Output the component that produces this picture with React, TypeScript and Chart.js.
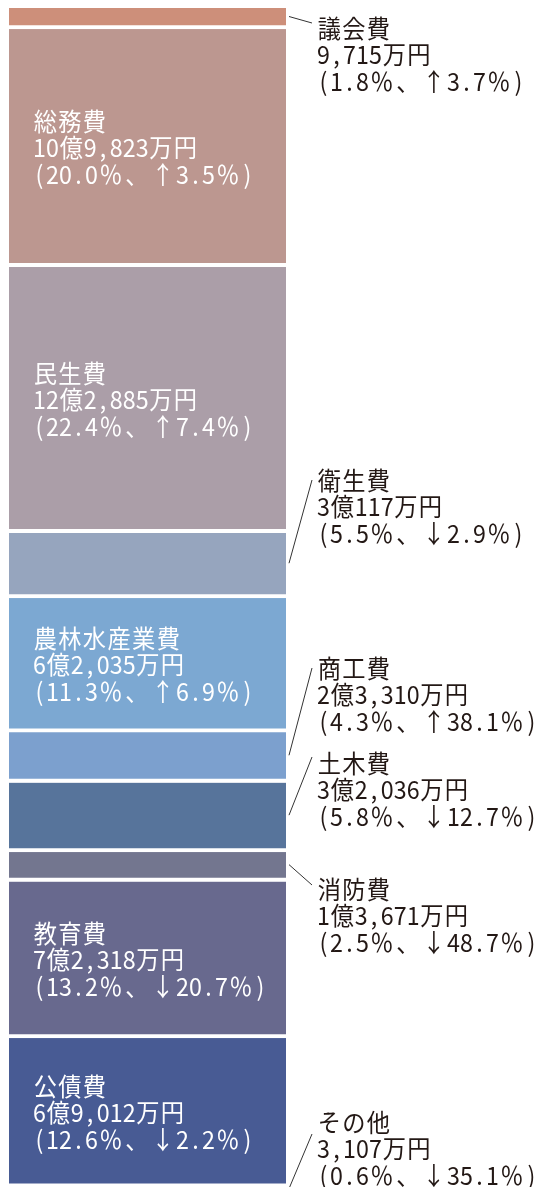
import { useEffect, useRef } from "react";
import { Chart, registerables } from "chart.js";

Chart.register(...registerables);

// 歳出（目的別） 単位：万円
const categories = ["議会費", "総務費", "民生費", "衛生費", "農林水産業費", "商工費", "土木費", "消防費", "教育費", "公債費", "その他"];
const amounts = [9715, 109823, 122885, 30117, 62035, 23310, 32036, 13671, 72318, 69012, 3107];
const amountLabels = ["9,715万円", "10億9,823万円", "12億2,885万円", "3億117万円", "6億2,035万円", "2億3,310万円", "3億2,036万円", "1億3,671万円", "7億2,318万円", "6億9,012万円", "3,107万円"];
const shares = ["1.8", "20.0", "22.4", "5.5", "11.3", "4.3", "5.8", "2.5", "13.2", "12.6", "0.6"];
const changes = ["↑3.7", "↑3.5", "↑7.4", "↓2.9", "↑6.9", "↑38.1", "↓12.7", "↓48.7", "↓20.7", "↓2.2", "↓35.1"];

// styling / layout (not data)
const colors = ["#cd8f7a", "#bc9790", "#ab9ea8", "#96a5be", "#7ca8d2", "#7ca0ce", "#57749b", "#73768f", "#68698e", "#485b94", "#3a4a80"];
const insideLabel = [false, true, true, false, true, false, false, false, true, true, false];
// outside label: first text line centre y, leader end y
const outsideTextY: Record<string, number> = { 議会費: 27, 衛生費: 479, 商工費: 667, 土木費: 762, 消防費: 888, その他: 1121 };
const outsideLeaderEndY: Record<string, number> = { 議会費: 23, 衛生費: 480, 商工費: 668, 土木費: 757, 消防費: 885, その他: 1134 };

const FONT = '25px "Noto Sans CJK JP", sans-serif';
const SCALE_X = 0.93;
const HALF_CELL = 13;
const KANJI_CELL = 24.6;
const SYMBOL_CELL = 26;
const LINE_H = 26.6;

function drawMonoText(ctx: CanvasRenderingContext2D, text: string, x: number, y: number) {
  let cx = x;
  for (const ch of text) {
    const code = ch.codePointAt(0) || 0;
    const cell = code < 0x2000 ? HALF_CELL : /[％、↑↓（）]/.test(ch) ? SYMBOL_CELL : KANJI_CELL;
    const w = ctx.measureText(ch).width * SCALE_X;
    ctx.save();
    ctx.translate(cx + (cell - w) / 2, y);
    ctx.scale(SCALE_X, 1);
    ctx.fillText(ch, 0, 0);
    ctx.restore();
    cx += cell;
  }
}

const labelPlugin = {
  id: "segLabels",
  afterDatasetsDraw(chart: any) {
    const ctx = chart.ctx as CanvasRenderingContext2D;
    ctx.save();
    ctx.font = FONT;
    ctx.textBaseline = "middle";
    ctx.textAlign = "left";
    categories.forEach((cat, i) => {
      const el = chart.getDatasetMeta(i).data[0];
      if (!el) return;
      const top = Math.min(el.y, el.base);
      const bottom = Math.max(el.y, el.base) - 4;
      const mid = (top + bottom) / 2;
      const lines = [cat, amountLabels[i], `(${shares[i]}％、${changes[i]}％)`];
      if (insideLabel[i]) {
        ctx.fillStyle = "#ffffff";
        const x = el.x - el.width / 2 + 24;
        lines.forEach((t, k) => drawMonoText(ctx, t, x, mid + 2 + (k - 1) * LINE_H));
      } else {
        const right = el.x + el.width / 2;
        const ty = outsideTextY[cat];
        const ly = outsideLeaderEndY[cat];
        ctx.strokeStyle = "#333333";
        ctx.lineWidth = 1;
        ctx.beginPath();
        ctx.moveTo(right + 3, mid);
        ctx.lineTo(right + 26, ly);
        ctx.stroke();
        ctx.fillStyle = "#231815";
        lines.forEach((t, k) => drawMonoText(ctx, t, right + 31, ty + 1 + k * LINE_H));
      }
    });
    ctx.restore();
  },
};

export default function App() {
  const ref = useRef<HTMLCanvasElement | null>(null);
  useEffect(() => {
    if (!ref.current) return;
    const total = amounts.reduce((a, b) => a + b, 0);
    const chart = new Chart(ref.current, {
      type: "bar",
      data: {
        labels: ["歳出"],
        datasets: categories.map((c, i) => ({
          label: c,
          data: [amounts[i]],
          backgroundColor: colors[i],
          borderColor: "#ffffff",
          borderWidth: { top: 0, bottom: 4, left: 0, right: 0 },
          borderSkipped: false,
          barPercentage: 1,
          categoryPercentage: 1,
          stack: "s",
        })),
      },
      options: {
        responsive: false,
        animation: false,
        layout: { padding: { top: 8, bottom: 6, left: 9, right: 255 } },
        plugins: { legend: { display: false }, tooltip: { enabled: false } },
        scales: {
          x: { stacked: true, display: false },
          y: { stacked: true, display: false, reverse: true, min: 0, max: total },
        },
      },
      plugins: [labelPlugin],
    });
    return () => chart.destroy();
  }, []);
  return (
    <div style={{ position: "fixed", top: 0, left: 0, width: 541, height: 1200, background: "#fff" }}>
      <canvas ref={ref} width={541} height={1200} style={{ width: 541, height: 1200, display: "block" }} />
    </div>
  );
}
